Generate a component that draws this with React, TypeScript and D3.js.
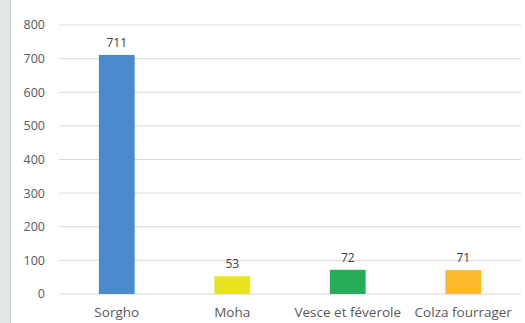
import React from "react";
import * as d3 from "d3";

const categories = ["Sorgho", "Moha", "Vesce et féverole", "Colza fourrager"];
const values = [711, 53, 72, 71];
const barColors = ["#4a8bcd", "#e9e41f", "#27ad57", "#fdb92a"];
const yTicks = [0, 100, 200, 300, 400, 500, 600, 700, 800];

const W = 525;
const H = 323;
const left = 59;
const right = 521;
const top = 25;
const bottom = 294;

export default function App() {
  const x = d3.scaleBand<string>().domain(categories).range([left, right]).paddingInner(0.69).paddingOuter(0.345);
  const y = d3.scaleLinear().domain([0, 800]).range([bottom, top]);
  const font = "'Open Sans', 'Noto Sans', sans-serif";
  return (
    <svg width={W} height={H} style={{ position: "fixed", left: 0, top: 0, display: "block" }}>
      <rect x={0} y={0} width={W} height={H} fill="#ffffff" />
      <rect x={0} y={0} width={10} height={H} fill="#e0e8e4" />
      <line x1={10.5} x2={10.5} y1={0} y2={H} stroke="#cbd6d1" strokeWidth={1} />
      {yTicks.map((t) => (
        <g key={t}>
          <line x1={left} x2={right} y1={y(t)} y2={y(t)} stroke="#d9d9d9" strokeWidth={1} />
          <text x={45} y={y(t)} dy="0.35em" textAnchor="end" fontSize={12.5} fill="#595959" fontFamily={font}>
            {t}
          </text>
        </g>
      ))}
      {categories.map((c, i) => (
        <g key={c}>
          <rect
            x={x(c)!}
            y={y(values[i])}
            width={x.bandwidth()}
            height={y(0) - y(values[i])}
            fill={barColors[i]}
          />
          <text
            x={x(c)! + x.bandwidth() / 2}
            y={y(values[i]) - 8}
            textAnchor="middle"
            fontSize={12}
            fill="#404040"
            fontFamily={font}
          >
            {values[i]}
          </text>
          <text
            x={x(c)! + x.bandwidth() / 2}
            y={317}
            textAnchor="middle"
            fontSize={13.5}
            fill="#595959"
            fontFamily={font}
          >
            {c}
          </text>
        </g>
      ))}
    </svg>
  );
}
